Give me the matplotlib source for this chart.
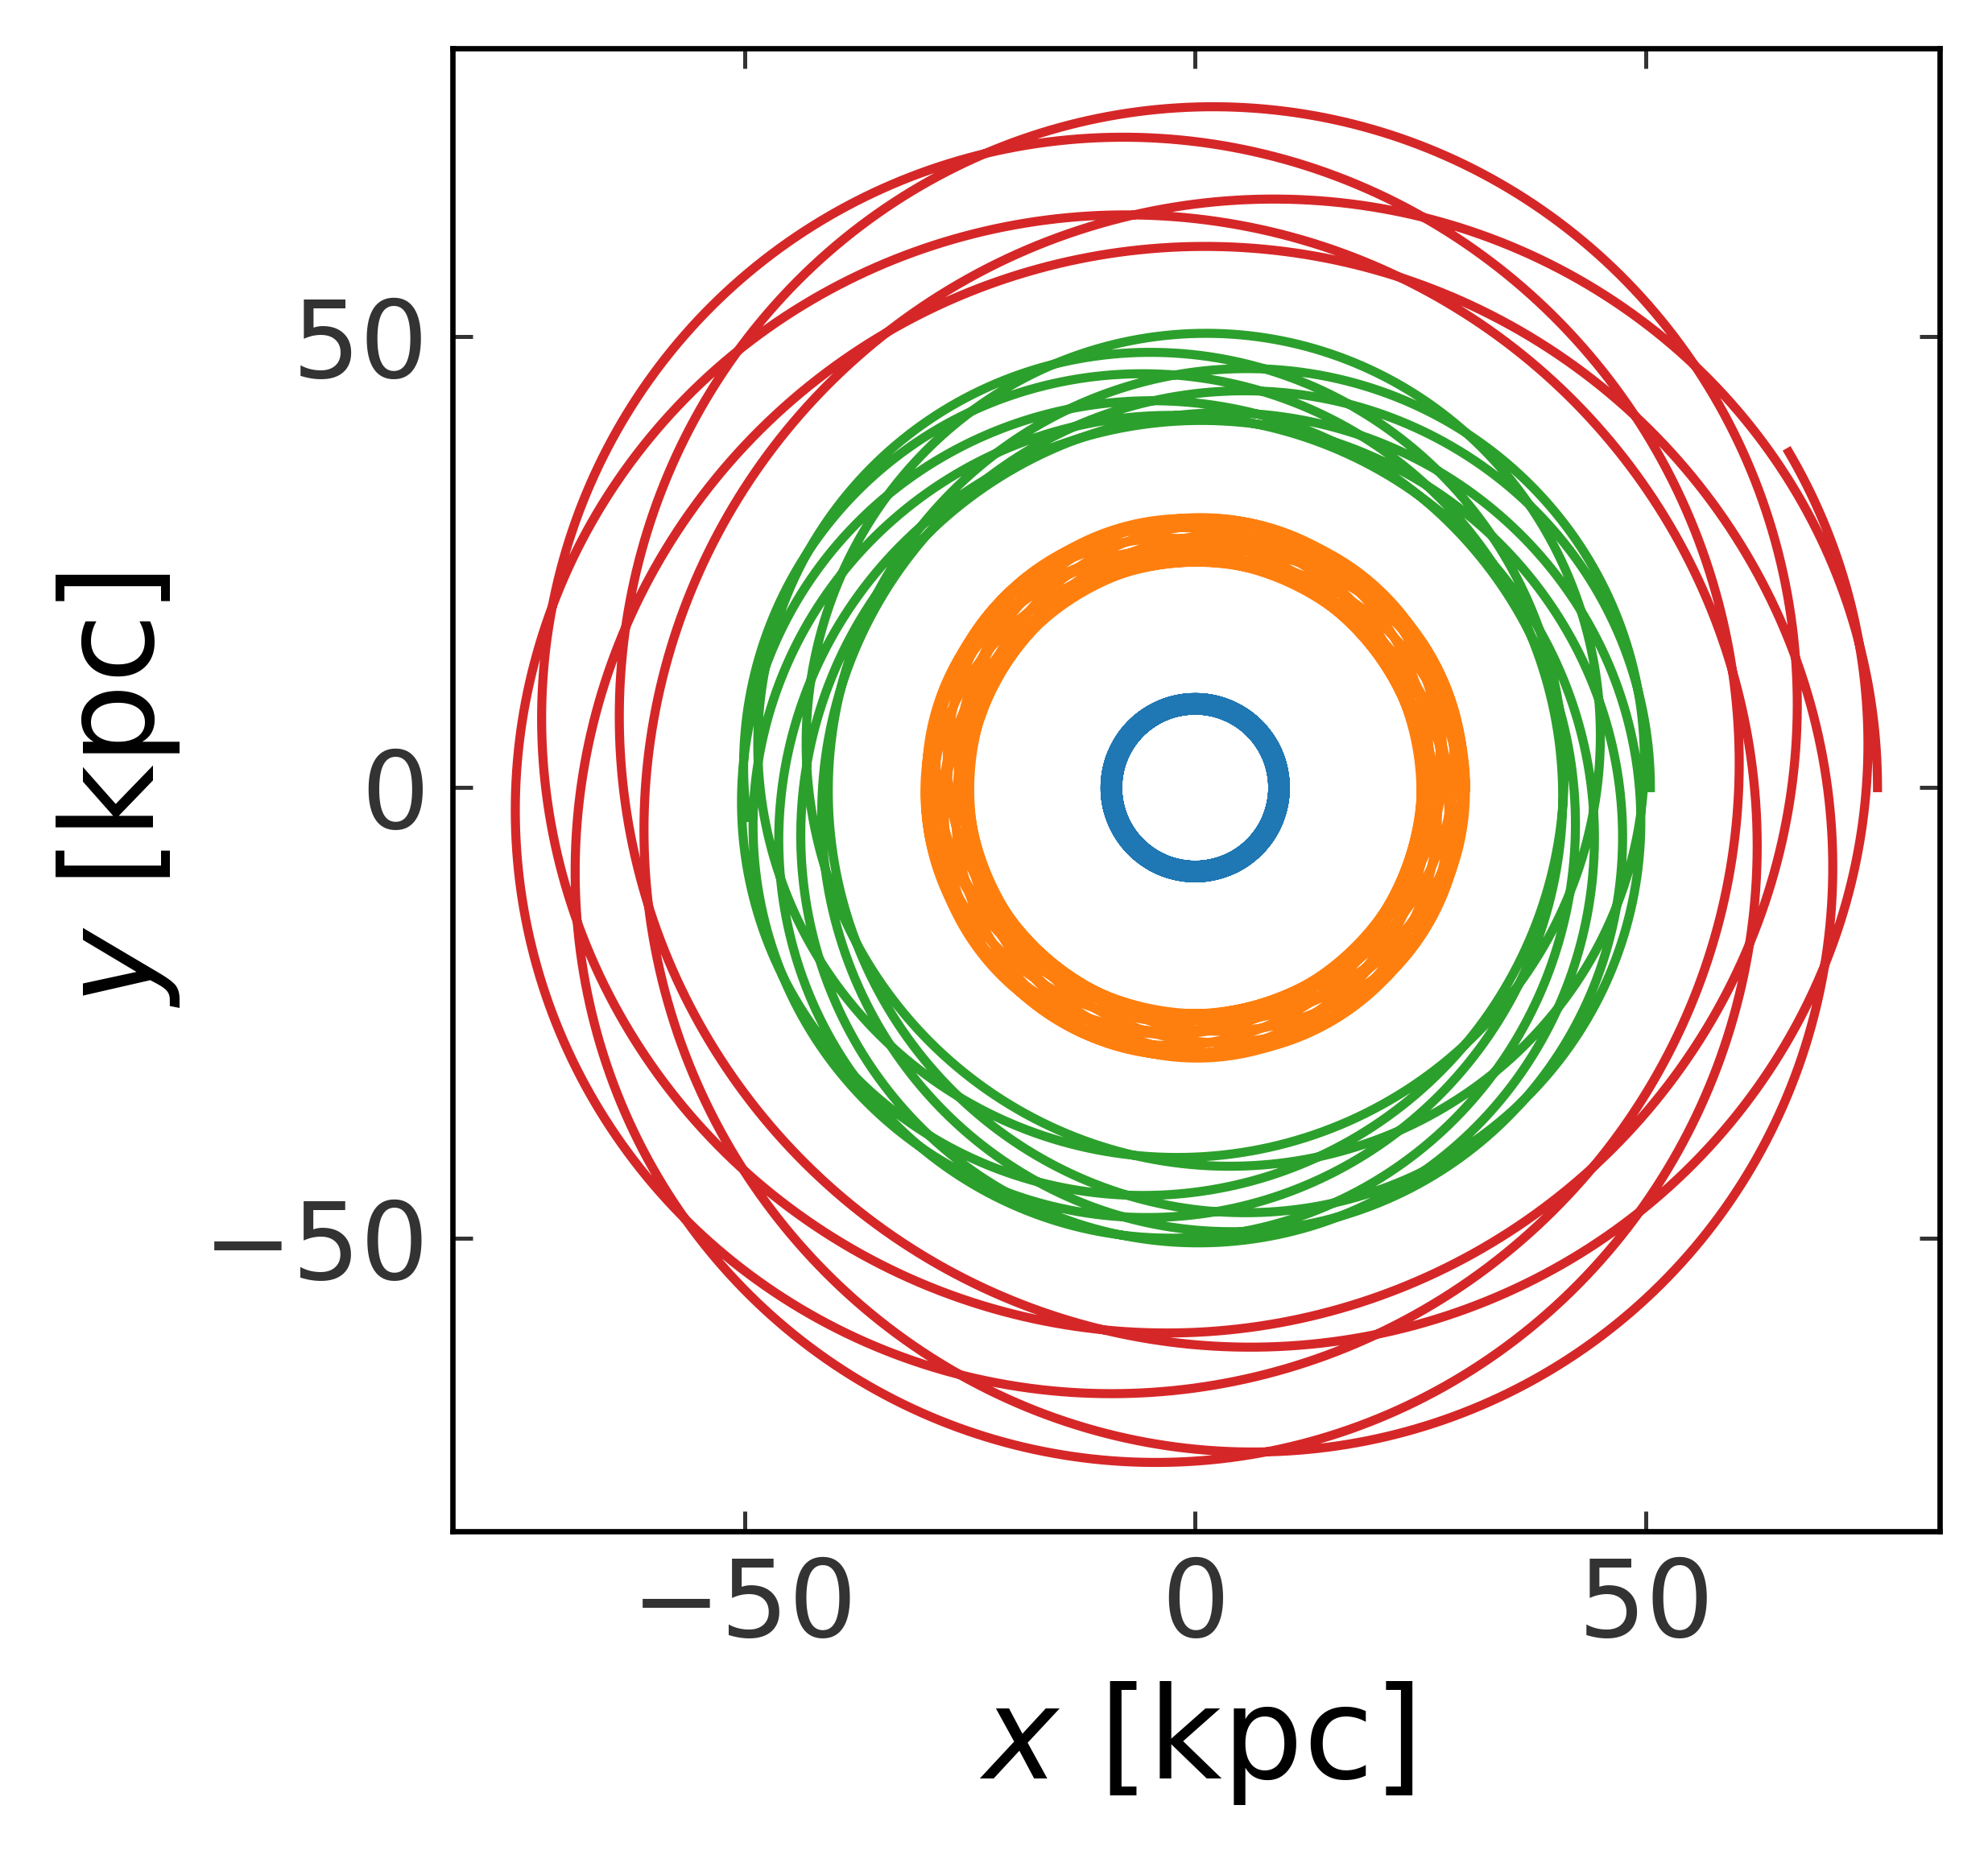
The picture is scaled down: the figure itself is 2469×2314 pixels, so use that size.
import numpy as np
import matplotlib
matplotlib.use("Agg")
import matplotlib.pyplot as plt

# orbits start on the +x axis at apocentre, moving tangentially (counter-clockwise)
start_radius = np.array([10.0, 30.0, 50.5, 75.7])      # kpc
speed_frac = np.array([0.947, 0.936, 0.924, 0.918])     # v_start / v_circ(start)
colors = ["#1f77b4", "#ff7f0e", "#2ca02c", "#d62728"]

# power-law rotation curve v_c = v0 (r / r0)^beta
v0 = 225.0      # kpc/Gyr
r0 = 50.0       # kpc
beta = -0.3
t_end = 10.57   # Gyr
dt = 0.0005     # Gyr


def accel(p):
    r = np.hypot(p[:, 0], p[:, 1])
    vc2 = (v0 * (r / r0) ** beta) ** 2
    return -(vc2 / r**2)[:, None] * p


# leapfrog, all four orbits together
n = int(round(t_end / dt))
p = np.stack([start_radius, np.zeros(4)], axis=1)
vel = np.stack([np.zeros(4), speed_frac * v0 * (start_radius / r0) ** beta], axis=1)
track = np.zeros((n + 1, 4, 2))
track[0] = p
a = accel(p)
for i in range(n):
    vel = vel + 0.5 * dt * a
    p = p + dt * vel
    a = accel(p)
    vel = vel + 0.5 * dt * a
    track[i + 1] = p

fig = plt.figure(figsize=(2469 / 300, 2314 / 300), dpi=300)
ax = fig.add_axes([0.2276, 0.178, 0.7481, 0.796])
for j in range(4):
    ax.plot(track[:, j, 0], track[:, j, 1], color=colors[j], lw=2.7)

ax.set_xlim(-82.4, 82.6)
ax.set_ylim(-82.5, 82.0)
ax.set_xticks([-50, 0, 50])
ax.set_yticks([-50, 0, 50])
ax.tick_params(direction="in", top=True, right=True, length=6, width=1.2,
               color="#333333", labelcolor="#333333", labelsize=32, pad=7)
for s in ax.spines.values():
    s.set_linewidth(1.6)
ax.set_xlabel("$x$ [kpc]", fontsize=38, labelpad=6)
ax.set_ylabel("$y$ [kpc]", fontsize=38, labelpad=6)
fig.savefig("out.png", dpi=300)
